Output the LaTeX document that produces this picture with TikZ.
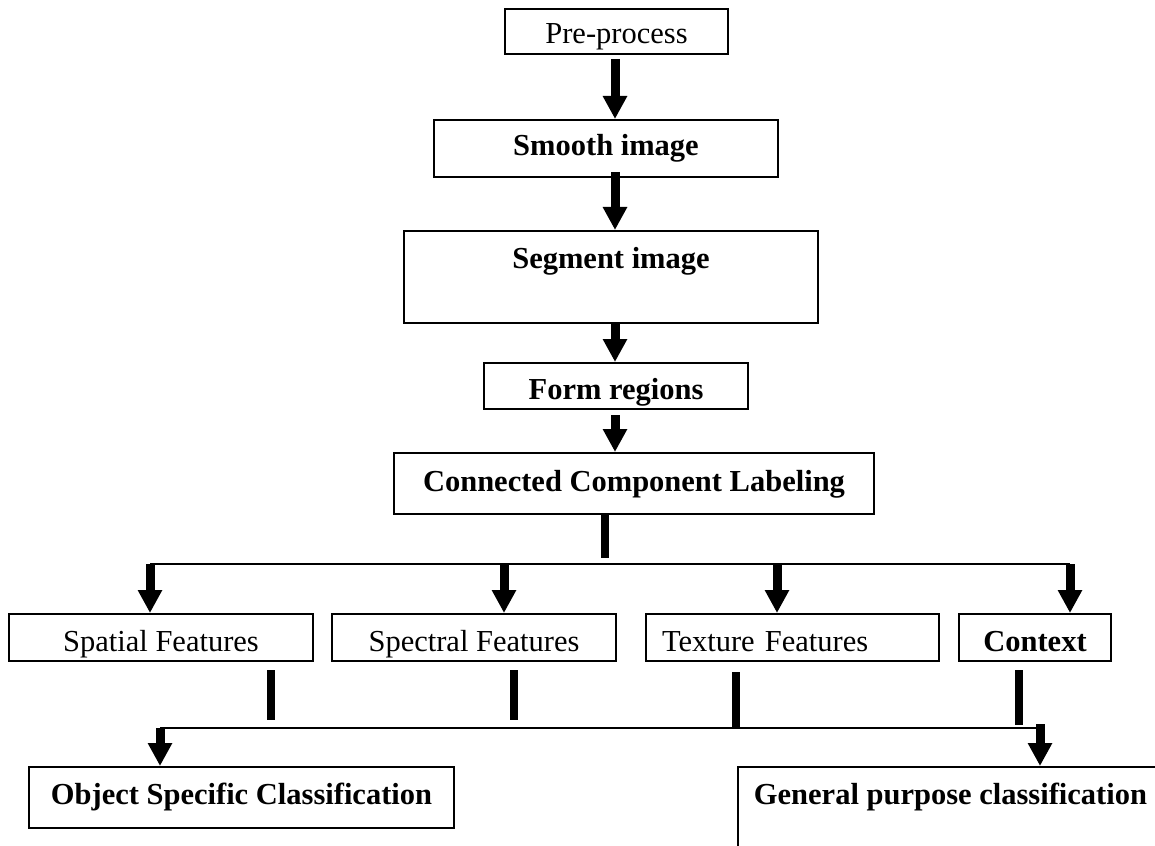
\documentclass[tikz,border=0pt]{standalone}
\usepackage{fontspec}
\setmainfont{Liberation Serif}
\usetikzlibrary{arrows.meta,calc}
\begin{document}
\begin{tikzpicture}[x=0.5pt,y=-0.5pt,
  font=\fontsize{15.25pt}{18pt}\selectfont,
  box/.style={draw, line width=1pt, rectangle, inner sep=0pt, anchor=north west, text height=14pt},
  arr/.style={line width=4.5pt, -{Triangle[length=11.5pt,width=11.5pt]}},
  bar/.style={line width=4pt},
  bus/.style={line width=1pt}]
\useasboundingbox (0,0) rectangle (1155,845);
\clip (0,0) rectangle (1155,845);

% boxes
\node[box, minimum width=111.5pt, minimum height=22.5pt, text depth=1.5pt] (pre) at (504,8) {Pre-process};
\node[box, minimum width=172pt, minimum height=28.5pt, text depth=6.5pt, font=\fontsize{15.25pt}{18pt}\selectfont\bfseries] (smooth) at (433,119) {Smooth image};
\node[box, minimum width=207pt, minimum height=46pt, text depth=23pt, font=\fontsize{15.25pt}{18pt}\selectfont\bfseries] (seg) at (403,230) {Segment image};
\node[box, minimum width=132pt, minimum height=23pt, text depth=1pt, font=\fontsize{15.25pt}{18pt}\selectfont\bfseries] (form) at (483,362) {Form regions};
\node[box, minimum width=240pt, minimum height=30.5pt, text depth=6pt, font=\fontsize{15.25pt}{18pt}\selectfont\bfseries] (ccl) at (393,452) {Connected Component Labeling};

\node[box, minimum width=152pt, minimum height=23.5pt, text depth=0.5pt] (spatial) at (8,613) {Spatial Features};
\node[box, minimum width=142pt, minimum height=23.5pt, text depth=0.5pt] (spectral) at (331,613) {Spectral Features};
\node[box, inner xsep=8pt, text width=130.5pt, align=left, minimum height=23.5pt, text depth=0.5pt] (texture) at (645,613) {Texture Features};
\node[box, minimum width=76pt, minimum height=23.5pt, text depth=0.5pt, font=\fontsize{15.25pt}{18pt}\selectfont\bfseries] (context) at (958,613) {Context};

\node[box, minimum width=212.5pt, minimum height=30.5pt, text depth=7.5pt, font=\fontsize{15.25pt}{18pt}\selectfont\bfseries] (object) at (28,766) {Object Specific Classification};
\node[box, minimum width=212.5pt, minimum height=75pt, text depth=52pt, font=\fontsize{15.25pt}{18pt}\selectfont\bfseries] (general) at (737,766) {General purpose classification};

% axis coordinates
\coordinate (ax) at (615,0);
\coordinate (stem) at (605,0);
\coordinate (bl) at (150,564);
\coordinate (bs) at (504,564);
\coordinate (bt) at (777,564);
\coordinate (br) at (1070,564);
\coordinate (ol) at (160,728);
\coordinate (or) at (1040,728);
\coordinate (x1) at (271,0);
\coordinate (x2) at (514,0);
\coordinate (x3) at (736,0);
\coordinate (x4) at (1019,0);

% vertical chain
\draw[arr] ($(pre.south -| ax)+(0,4)$) -- (smooth.north -| ax);
\draw[arr] ($(smooth.south -| ax)+(0,-6)$) -- (seg.north -| ax);
\draw[arr] (seg.south -| ax) -- (form.north -| ax);
\draw[arr] ($(form.south -| ax)+(0,5)$) -- (ccl.north -| ax);

% upper distribution
\draw[bar] (ccl.south -| stem) -- ($(bl -| stem)+(0,-6)$);
\draw[bus] (bl) -- (br);
\draw[arr] (bl) -- (bl |- spatial.north);
\draw[arr] (bs) -- (bs |- spectral.north);
\draw[arr] (bt) -- (bt |- texture.north);
\draw[arr] (br) -- (br |- context.north);

% lower collection
\draw[bar] ($(spatial.south -| x1)+(0,8)$) -- ($(ol -| x1)+(0,-8)$);
\draw[bar] ($(spectral.south -| x2)+(0,8)$) -- ($(ol -| x2)+(0,-8)$);
\draw[bar] ($(texture.south -| x3)+(0,10)$) -- (ol -| x3);
\draw[bar] ($(context.south -| x4)+(0,8)$) -- ($(ol -| x4)+(0,-3)$);
\draw[bus] (ol) -- (or);
\draw[arr] (ol) -- (ol |- object.north);
\draw[arr] ($(or)+(0,-4)$) -- (or |- general.north);
\end{tikzpicture}
\end{document}
